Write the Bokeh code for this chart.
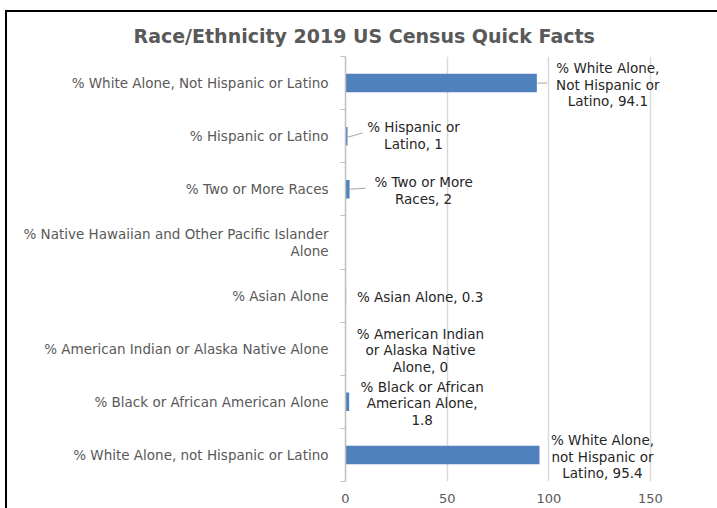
from bokeh.plotting import figure
from bokeh.models import ColumnDataSource, LabelSet, FixedTicker, Range1d
from bokeh.embed import file_html
from bokeh.resources import INLINE
from bokeh.core.properties import value

# ---- data ----
categories = [
    "% White Alone, Not Hispanic or Latino",
    "% Hispanic or Latino",
    "% Two or More Races",
    "% Native Hawaiian and Other Pacific Islander\nAlone",
    "% Asian Alone",
    "% American Indian or Alaska Native Alone",
    "% Black or African American Alone",
    "% White Alone, not Hispanic or Latino",
]
values = [94.1, 1, 2, float("nan"), 0.3, 0, 1.8, 95.4]
label_texts = [
    "% White Alone,\nNot Hispanic or\nLatino, 94.1",
    "% Hispanic or\nLatino, 1",
    "% Two or More\nRaces, 2",
    "",
    "% Asian Alone, 0.3",
    "% American Indian\nor Alaska Native\nAlone, 0",
    "% Black or African\nAmerican Alone,\n1.8",
    "% White Alone,\nnot Hispanic or\nLatino, 95.4",
]
x_ticks = [0, 50, 100, 150]
axis_max = 150
title_text = "Race/Ethnicity 2019 US Census Quick Facts"

# ---- layout (screen offsets of data labels, px; y positive = up) ----
label_dx = [71, 66, 74, 0, 74, 75, 73, 63]
label_dy = [-1.5, 0.5, -1, 0, -1, -1.5, -1.5, -2]
LINE = 16.5

positions = list(range(len(categories)))

# one row per text line so every line can be centred
lx, ly, lt, ldx, ldy = [], [], [], [], []
for i, txt in enumerate(label_texts):
    parts = txt.split("\n") if txt else []
    n = len(parts)
    for k, part in enumerate(parts):
        lx.append(0 if values[i] != values[i] else values[i])
        ly.append(positions[i])
        lt.append(part)
        ldx.append(label_dx[i])
        ldy.append(label_dy[i] + ((n - 1) / 2 - k) * LINE)

bar_src = ColumnDataSource(dict(pos=positions, value=values))
lab_src = ColumnDataSource(dict(x=lx, y=ly, text=lt, dx=ldx, dy=ldy))

FONT = "DejaVu Sans"
W, H = 717, 508
FL, FT, FB = 345, 56, 481      # frame left/top/bottom in px
X150 = 650                     # px position of the axis maximum
FR = 708                       # frame right (room for data labels)
x_end = axis_max * (FR - FL) / (X150 - FL)

p = figure(width=W, height=H, x_range=Range1d(0, x_end),
           y_range=Range1d(len(categories) - 0.5, -0.5),
           output_backend="svg", toolbar_location=None,
           min_border_left=FL, min_border_right=W - FR,
           min_border_top=FT, min_border_bottom=H - FB)
p.outline_line_color = None
p.border_fill_color = None
p.background_fill_color = "white"
p.styles = {
    "background": "linear-gradient(#000, #000) 5px 10px / 2px 100% no-repeat, "
                  "linear-gradient(#000, #000) 5px 10px / 100% 2px no-repeat, white",
}

p.hbar(y="pos", left=0, right="value", height=0.35, source=bar_src,
       fill_color="#4F81BD", line_color=None)

# leader lines (row, dx0, dy0, dx1, dy1) in data units relative to bar end
leaders = [(0, 0.3, 0.0, 5.2, 0.0), (1, 0.0, 0.02, 7.4, -0.06), (2, -0.5, 0.0, 7.8, -0.02)]
p.segment(x0=[values[r] + a for r, a, b, c, d in leaders],
          y0=[positions[r] + b for r, a, b, c, d in leaders],
          x1=[values[r] + c for r, a, b, c, d in leaders],
          y1=[positions[r] + d for r, a, b, c, d in leaders],
          line_color="#A6A6A6", line_width=1)

labels = LabelSet(x="x", y="y", text="text", source=lab_src, x_offset="dx", y_offset="dy",
                  text_align="center", text_baseline="middle", text_font=value(FONT),
                  text_font_size="13.5px", text_color="#262626")
p.add_layout(labels)

# grid
p.xgrid.ticker = FixedTicker(ticks=x_ticks)
p.xgrid.grid_line_color = "#D9D9D9"
p.xgrid.grid_line_width = 1.5
p.ygrid.visible = False

# x axis
p.xaxis.ticker = FixedTicker(ticks=x_ticks)
p.xaxis.axis_line_color = None
p.xaxis.major_tick_line_color = None
p.xaxis.minor_tick_line_color = None
p.xaxis.major_label_text_color = "#595959"
p.xaxis.major_label_text_font = FONT
p.xaxis.major_label_text_font_size = "13px"
p.xaxis.major_label_standoff = 6

# y axis
p.yaxis.ticker = FixedTicker(ticks=positions,
                             minor_ticks=[i - 0.5 for i in range(len(categories) + 1)])
p.yaxis.major_label_overrides = {i: c for i, c in zip(positions, categories)}
p.yaxis.axis_line_color = "#BFBFBF"
p.yaxis.axis_line_width = 1.5
p.yaxis.major_tick_line_color = None
p.yaxis.major_tick_out = 0
p.yaxis.major_tick_in = 0
p.yaxis.minor_tick_line_color = "#BFBFBF"
p.yaxis.minor_tick_out = 5
p.yaxis.minor_tick_in = 0
p.yaxis.major_label_standoff = 12
p.yaxis.major_label_text_color = "#595959"
p.yaxis.major_label_text_font = FONT
p.yaxis.major_label_text_font_size = "13.5px"
p.yaxis.major_label_text_line_height = 1.05

# title (left aligned, shifted so it sits centred over the whole chart)
p.title.text = title_text
p.title.align = "left"
p.title.offset = 133 - FL
p.title.standoff = 20
p.title.text_font = FONT
p.title.text_font_style = "bold"
p.title.text_font_size = "19px"
p.title.text_color = "#595959"

open("out.html", "w").write(file_html(p, INLINE))
